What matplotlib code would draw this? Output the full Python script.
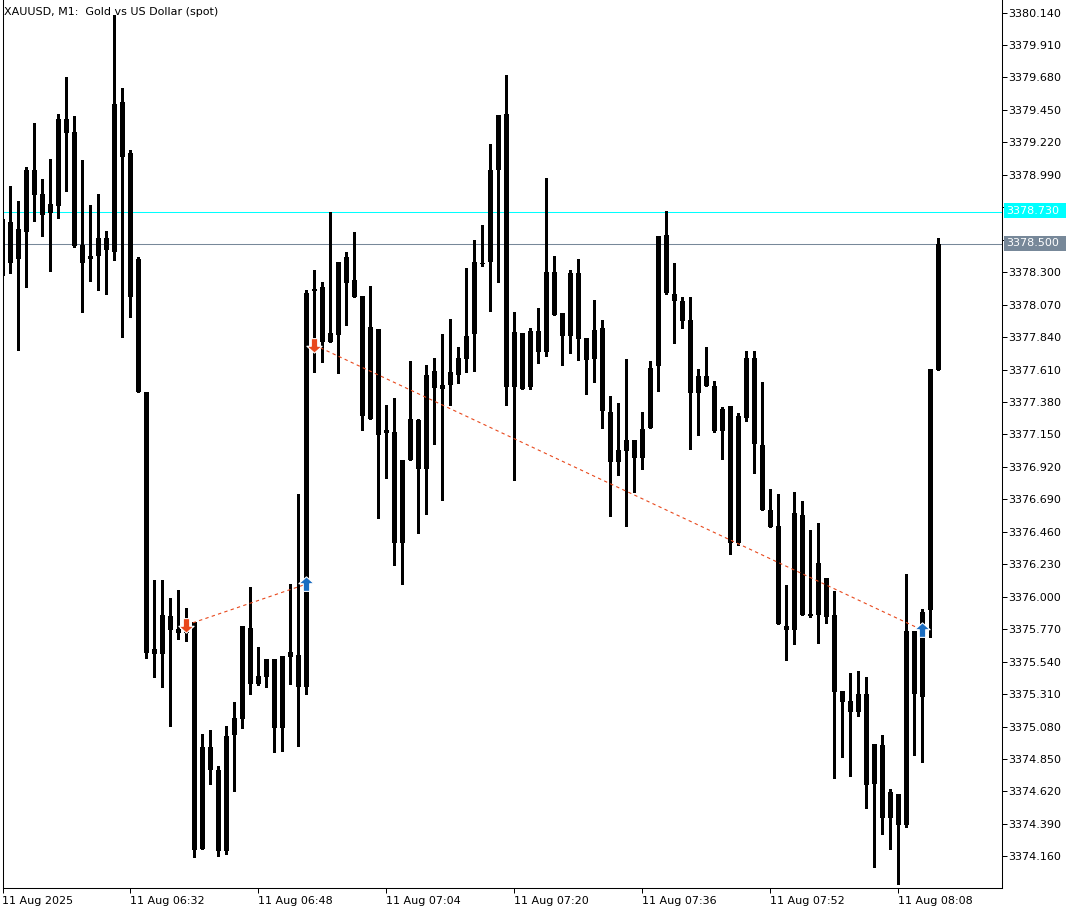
import matplotlib
matplotlib.use("Agg")
import matplotlib.pyplot as plt
from matplotlib.patches import Rectangle
from matplotlib.path import Path
import numpy as np

# ---------------- data ----------------
opens = [3378.670, 3378.365, 3378.606, 3378.585, 3379.024, 3378.854, 3378.720, 3378.769, 3379.385, 3379.293,
         3378.493, 3378.394, 3378.415, 3378.542, 3378.443, 3379.506, 3379.144, 3378.394, 3377.451, 3375.630,
         3375.591, 3375.864, 3375.772, 3375.743, 3375.821, 3374.212, 3374.935, 3374.772, 3374.198, 3375.020,
         3375.133, 3375.779, 3375.382, 3375.431, 3375.559, 3375.069, 3375.573, 3375.587, 3375.360, 3378.167,
         3378.195, 3377.805, 3377.855, 3378.408, 3378.245, 3378.132, 3377.259, 3377.897, 3377.181, 3377.167,
         3376.381, 3376.969, 3377.252, 3376.905, 3377.600, 3377.500, 3377.500, 3377.574, 3377.685, 3377.862,
         3378.362, 3378.372, 3379.024, 3379.421, 3377.483, 3377.869, 3377.488, 3377.883, 3377.736, 3378.301,
         3378.009, 3377.850, 3378.296, 3377.834, 3377.687, 3377.904, 3377.309, 3376.955, 3377.035, 3377.111,
         3376.985, 3377.196, 3377.637, 3378.564, 3378.146, 3378.096, 3377.961, 3377.446, 3377.564, 3377.494,
         3377.177, 3377.352, 3376.379, 3377.265, 3377.692, 3377.075, 3376.615, 3376.501, 3375.793, 3375.764,
         3376.579, 3375.878, 3375.871, 3376.133, 3375.871, 3375.332, 3375.261, 3375.183, 3375.311, 3374.673,
         3374.949, 3374.432, 3374.602, 3374.382, 3375.757, 3375.289, 3375.906, 3377.607]
highs = [3378.680, 3378.910, 3378.805, 3379.045, 3379.357, 3378.960, 3379.102, 3379.421, 3379.683, 3379.407,
         3379.095, 3378.777, 3378.854, 3378.592, 3380.123, 3379.605, 3379.166, 3378.408, 3377.451, 3376.119,
         3376.119, 3375.992, 3376.048, 3375.920, 3375.821, 3375.027, 3375.055, 3374.800, 3375.084, 3375.254,
         3375.793, 3376.069, 3375.644, 3375.559, 3375.559, 3375.580, 3376.090, 3376.728, 3378.174, 3378.316,
         3378.231, 3378.727, 3378.372, 3378.443, 3378.585, 3378.132, 3378.202, 3377.897, 3377.359, 3377.408,
         3376.969, 3377.671, 3377.259, 3377.642, 3377.692, 3377.862, 3377.968, 3377.770, 3378.330, 3378.528,
         3378.638, 3379.208, 3379.414, 3379.697, 3378.018, 3377.869, 3377.904, 3378.046, 3378.967, 3378.415,
         3378.009, 3378.316, 3378.394, 3377.834, 3378.103, 3377.961, 3377.423, 3377.375, 3377.683, 3377.111,
         3377.309, 3377.669, 3378.559, 3378.733, 3378.367, 3378.122, 3378.122, 3377.614, 3377.770, 3377.529,
         3377.343, 3377.352, 3377.300, 3377.742, 3377.742, 3377.522, 3376.764, 3376.728, 3376.083, 3376.742,
         3376.679, 3376.473, 3376.522, 3376.133, 3376.041, 3375.332, 3375.459, 3375.474, 3375.431, 3374.956,
         3375.020, 3374.637, 3374.602, 3376.161, 3375.757, 3375.913, 3377.614, 3378.539]
lows = [3378.280, 3378.294, 3377.749, 3378.195, 3378.663, 3378.557, 3378.308, 3378.684, 3378.875, 3378.479,
        3378.018, 3378.238, 3378.174, 3378.146, 3378.386, 3377.841, 3377.982, 3377.451, 3375.566, 3375.428,
        3375.360, 3375.087, 3375.701, 3375.687, 3374.159, 3374.212, 3374.673, 3374.162, 3374.177, 3374.623,
        3375.069, 3375.311, 3375.375, 3375.360, 3374.899, 3374.906, 3375.384, 3374.942, 3375.314, 3377.593,
        3377.663, 3377.805, 3377.585, 3377.926, 3378.125, 3377.181, 3377.259, 3376.558, 3376.841, 3376.225,
        3376.090, 3376.969, 3376.452, 3376.587, 3377.082, 3376.686, 3377.359, 3377.515, 3377.593, 3377.600,
        3378.347, 3378.025, 3378.231, 3377.361, 3376.827, 3377.472, 3377.472, 3377.658, 3377.708, 3377.997,
        3377.642, 3377.729, 3377.678, 3377.437, 3377.522, 3377.196, 3376.574, 3376.863, 3376.503, 3376.742,
        3376.907, 3377.196, 3377.458, 3378.146, 3377.800, 3377.907, 3377.049, 3377.146, 3377.496, 3377.169,
        3376.976, 3376.303, 3376.367, 3377.248, 3376.879, 3376.615, 3376.496, 3375.807, 3375.552, 3375.665,
        3375.871, 3375.856, 3375.672, 3375.816, 3374.715, 3374.866, 3374.729, 3375.155, 3374.503, 3374.085,
        3374.321, 3374.212, 3373.964, 3374.368, 3374.878, 3374.829, 3375.715, 3377.607]
closes = [3378.287, 3378.656, 3378.394, 3379.024, 3378.847, 3378.706, 3378.784, 3379.385, 3379.286, 3378.486,
          3378.365, 3378.415, 3378.542, 3378.457, 3379.492, 3379.116, 3378.125, 3377.451, 3375.601, 3375.591,
          3375.871, 3375.765, 3375.743, 3375.772, 3374.205, 3374.935, 3374.772, 3374.198, 3375.013, 3375.140,
          3375.793, 3375.382, 3375.438, 3375.559, 3375.069, 3375.580, 3375.608, 3375.360, 3378.152, 3378.181,
          3377.805, 3377.869, 3378.372, 3378.220, 3378.125, 3377.281, 3377.912, 3377.146, 3377.160, 3376.381,
          3376.966, 3377.259, 3376.905, 3377.571, 3377.479, 3377.469, 3377.593, 3377.692, 3377.848, 3378.369,
          3378.365, 3379.024, 3379.414, 3377.483, 3377.876, 3377.472, 3377.883, 3377.736, 3378.301, 3377.997,
          3377.850, 3378.296, 3377.829, 3377.678, 3377.890, 3377.318, 3376.955, 3377.040, 3377.111, 3376.985,
          3377.186, 3377.621, 3378.559, 3378.153, 3378.098, 3377.956, 3377.442, 3377.564, 3377.496, 3377.174,
          3377.330, 3376.383, 3377.281, 3377.692, 3377.084, 3376.615, 3376.496, 3375.807, 3375.764, 3376.593,
          3375.871, 3375.864, 3376.239, 3375.859, 3375.325, 3375.254, 3375.183, 3375.311, 3374.666, 3374.956,
          3374.432, 3374.616, 3374.382, 3375.757, 3375.311, 3375.895, 3377.614, 3378.500]

time_tick_idx = [0, 16, 32, 48, 64, 80, 96, 112]
time_tick_labels = ["11 Aug 2025", "11 Aug 06:32", "11 Aug 06:48", "11 Aug 07:04",
                    "11 Aug 07:20", "11 Aug 07:36", "11 Aug 07:52", "11 Aug 08:08"]
price_ticks = [round(3380.140 - 0.23 * k, 3) for k in range(27)]

ask_level = 3378.730
bid_level = 3378.500

trade1_idx = [23, 38]
trade1_px = [3375.800, 3376.090]
trade2_idx = [39, 115]
trade2_px = [3377.784, 3375.764]

title = "XAUUSD, M1:  Gold vs US Dollar (spot)"

# ---------------- figure ----------------
W, H = 1079, 913
fig = plt.figure(figsize=(W / 100, H / 100), dpi=100)
fig.patch.set_facecolor("white")
ax = fig.add_axes([2.5 / W, 25 / H, 999 / W, 888 / H])

O = np.array(opens); Hh = np.array(highs); L = np.array(lows); C = np.array(closes)
x = np.arange(len(O))
PX = 1.0 / 141.1  # one pixel in price units

ax.axhline(ask_level, color="#00FFFF", lw=0.75, zorder=1)
ax.axhline(bid_level, color="#778899", lw=0.75, zorder=1)

ax.vlines(x, L, Hh, color="black", lw=0.75, antialiased=False, zorder=2)
lo = np.minimum(O, C)
hgt = np.abs(C - O)
small = hgt < PX
bottoms = np.where(small, (O + C) / 2 - PX / 2, lo)
hgt = np.where(small, PX, hgt)
ax.bar(x, hgt, bottom=bottoms, width=0.68, color="black", lw=0, antialiased=False, zorder=3)

red = "#E8481C"
blue = "#1A6CC0"
ax.plot(trade1_idx, trade1_px, color=red, lw=0.8, ls=(0, (3, 3)), zorder=4)
ax.plot(trade2_idx, trade2_px, color=red, lw=0.8, ls=(0, (3, 3)), zorder=4)

up_arrow = Path([(0, 1), (1, 0.1), (0.42, 0.1), (0.42, -0.9), (-0.42, -0.9), (-0.42, 0.1), (-1, 0.1), (0, 1)],
                [Path.MOVETO] + [Path.LINETO] * 6 + [Path.CLOSEPOLY])
down_arrow = Path([(0, -1), (1, -0.1), (0.42, -0.1), (0.42, 0.9), (-0.42, 0.9), (-0.42, -0.1), (-1, -0.1), (0, -1)],
                  [Path.MOVETO] + [Path.LINETO] * 6 + [Path.CLOSEPOLY])
for xi, pi in [(trade1_idx[0], trade1_px[0]), (trade2_idx[0], trade2_px[0])]:
    ax.plot([xi], [pi], marker=down_arrow, ms=11, color=red, mec="white", mew=0.8, zorder=5)
for xi, pi in [(trade1_idx[1], trade1_px[1]), (trade2_idx[1], trade2_px[1])]:
    ax.plot([xi], [pi], marker=up_arrow, ms=11, color=blue, mec="white", mew=0.8, zorder=5)

ax.set_xlim(0.025, 124.9)
ax.set_ylim(3373.936, 3380.229)

ax.yaxis.tick_right()
ax.set_yticks(price_ticks)
# the two ticks hidden behind the Ask/Bid price tags keep no visible label
hidden = {round(ask_level + 0.03, 3), round(bid_level + 0.03, 3)}
ax.set_yticklabels(["" if round(v, 3) in hidden else f"{v:.3f}" for v in price_ticks])
ax.tick_params(axis="y", length=3.6, width=0.72, pad=1.0, labelsize=8, direction="out", colors="black")
ax.set_xticks(time_tick_idx)
ax.set_xticklabels(time_tick_labels)
for lbl in ax.get_xticklabels():
    lbl.set_horizontalalignment("left")
ax.tick_params(axis="x", length=3.6, width=0.72, pad=2.0, labelsize=8, direction="out")

for s in ["left", "right", "bottom"]:
    ax.spines[s].set_linewidth(0.75)
    ax.spines[s].set_color("black")
ax.spines["top"].set_visible(False)

fig.text(4 / W, 1 - 12 / H, title, fontsize=8, va="center", ha="left")

def level_label(y_px, color, text):
    fig.add_artist(Rectangle((1004 / W, 1 - (y_px + 7.5) / H), 62 / W, 15 / H,
                             transform=fig.transFigure, facecolor=color, edgecolor="none", zorder=5))
    fig.text(1006 / W, 1 - y_px / H, text, color="white", fontsize=8, va="center", ha="left", zorder=6)

level_label(211, "#00FFFF", f"{ask_level:.3f}")
level_label(243.5, "#778899", f"{bid_level:.3f}")

fig.savefig("out.png", dpi=100, facecolor="white")
